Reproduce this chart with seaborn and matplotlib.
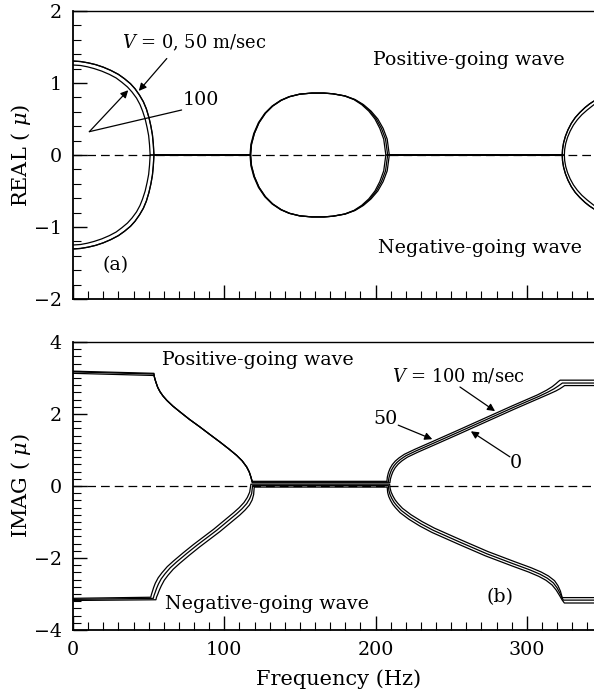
import pandas as pd
import seaborn as sns
import matplotlib.pyplot as plt
from matplotlib.ticker import MultipleLocator

# ---------------- (a) REAL(mu) : upper half of each loop (lower half is its mirror) ----------------
# V = 0 and 50 m/sec lie on the outer curves, V = 100 m/sec on the inner ones
arc_f_v0 = [0, 5, 10, 15, 20, 25, 30, 34, 38, 41, 44, 46.5, 48.5, 50.2, 51.5, 52.5, 53.1, 53.5]
arc_re_v0 = [1.305, 1.298, 1.28, 1.255, 1.22, 1.175, 1.12, 1.06, 0.99, 0.92, 0.83, 0.74, 0.64, 0.52, 0.40, 0.28, 0.15, 0.0]
arc_f_v100 = [0, 5, 9.5, 14, 19, 24, 28.5, 32.3, 36, 39, 42, 44.3, 46, 47.7, 49, 50, 50.6, 51]
arc_re_v100 = [1.25, 1.243, 1.225, 1.2, 1.165, 1.12, 1.07, 1.01, 0.945, 0.875, 0.79, 0.70, 0.61, 0.50, 0.38, 0.27, 0.14, 0.0]

oval_re = [0.0, 0.15, 0.30, 0.45, 0.58, 0.68, 0.76, 0.81, 0.845, 0.86, 0.86, 0.85, 0.82, 0.77, 0.70, 0.61, 0.50, 0.37, 0.22, 0.0]
oval_f_v0 = [117.4, 118.0, 119.9, 123.0, 127.2, 132.0, 137.7, 143.2, 150.0, 158.0, 166.0, 172.0, 180.0, 186.5, 192.0, 197.0, 201.5, 205.0, 207.7, 209.1]
oval_f_v50 = [117.4, 118.0, 119.9, 123.0, 127.2, 132.0, 137.7, 143.2, 150.0, 158.0, 166.0, 172.0, 179.8, 186.1, 191.4, 196.3, 200.5, 203.9, 206.6, 208.0]
oval_f_v100 = [117.0, 117.6, 119.5, 122.6, 126.8, 131.6, 137.3, 142.8, 149.6, 157.6, 165.6, 171.6, 179.5, 185.7, 190.8, 195.5, 199.6, 202.8, 205.4, 206.8]

edge_f_v0 = [323.4, 323.6, 324.3, 325.5, 327.2, 329.4, 332.0, 335.0, 338.5, 341.5, 344.4]
edge_re_v0 = [0.0, 0.08, 0.17, 0.26, 0.35, 0.44, 0.52, 0.59, 0.66, 0.71, 0.75]
edge_f_v100 = [324.8, 325.0, 325.7, 326.9, 328.6, 330.8, 333.4, 336.4, 339.9, 342.9, 344.4]
edge_re_v100 = [0.0, 0.075, 0.16, 0.245, 0.33, 0.415, 0.49, 0.56, 0.625, 0.675, 0.70]

# ---------------- (b) IMAG(mu) ----------------
# positive-going wave: the three speeds overlap on the falling part below 120 Hz
pos_flat_f = [0, 53.5]
pos_flat_im_v100 = [3.19, 3.13]
pos_flat_im_v50 = [3.17, 3.11]
pos_flat_im_v0 = [3.13, 3.07]
pos_drop_f = [53.8, 54.3, 55.0, 56.0, 57.5, 59.5, 62.0, 66.0, 70.7, 77.0, 83.9, 90.5, 97.2, 103.0, 108.2, 111.8, 114.8, 116.5, 117.6, 118.5]
pos_drop_im = [3.03, 2.95, 2.86, 2.74, 2.62, 2.50, 2.38, 2.22, 2.06, 1.85, 1.64, 1.43, 1.22, 1.03, 0.85, 0.70, 0.53, 0.39, 0.25, 0.11]
pos_mid_im_v100 = 0.13
pos_mid_im_v50 = 0.11
pos_mid_im_v0 = 0.09

pos_rise_f_v100 = [207.5, 207.8, 208.5, 209.5, 211.0, 213.0, 215.5, 219.0, 226.0, 239.0, 254.0, 272.0, 290.0, 307.0, 313.0, 316.8, 319.2, 320.8, 322.0, 344.4]
pos_rise_im_v100 = [0.13, 0.25, 0.37, 0.48, 0.59, 0.69, 0.78, 0.88, 1.02, 1.26, 1.54, 1.88, 2.22, 2.53, 2.66, 2.76, 2.84, 2.90, 2.94, 2.94]
pos_rise_f_v50 = [208.5, 208.8, 209.5, 210.5, 212.0, 214.0, 216.5, 220.0, 227.0, 240.0, 255.0, 273.0, 291.0, 308.0, 314.0, 318.0, 320.5, 322.2, 323.5, 344.4]
pos_rise_im_v50 = [0.11, 0.22, 0.33, 0.44, 0.55, 0.65, 0.74, 0.84, 0.98, 1.22, 1.50, 1.84, 2.18, 2.49, 2.61, 2.70, 2.77, 2.82, 2.86, 2.86]
pos_rise_f_v0 = [209.5, 209.8, 210.5, 211.5, 213.0, 215.0, 217.5, 221.0, 228.0, 241.0, 256.0, 274.0, 292.0, 309.0, 315.0, 319.2, 321.8, 323.6, 325.0, 344.4]
pos_rise_im_v0 = [0.09, 0.19, 0.29, 0.40, 0.51, 0.61, 0.70, 0.80, 0.94, 1.18, 1.46, 1.80, 2.14, 2.45, 2.56, 2.64, 2.70, 2.75, 2.79, 2.79]

# negative-going wave
neg_rise_f_v100 = [0, 51.4, 51.8, 52.4, 53.3, 54.4, 56.3, 58.8, 62.3, 66.5, 73.0, 79.8, 86.4, 93.0, 99.6, 106.2, 109.9, 113.0, 115.2, 116.8, 117.6]
neg_rise_im_v100 = [-3.12, -3.09, -3.02, -2.94, -2.82, -2.70, -2.55, -2.41, -2.24, -2.08, -1.85, -1.62, -1.41, -1.20, -0.97, -0.74, -0.60, -0.46, -0.32, -0.17, 0.05]
neg_rise_f_v50 = [0, 53.1, 53.5, 54.2, 55.2, 56.4, 58.3, 60.8, 64.3, 68.5, 75.0, 81.8, 88.4, 95.0, 101.6, 108.2, 111.8, 114.8, 116.8, 118.1, 118.7]
neg_rise_im_v50 = [-3.15, -3.12, -3.05, -2.97, -2.85, -2.73, -2.58, -2.44, -2.27, -2.11, -1.88, -1.65, -1.44, -1.23, -1.00, -0.77, -0.63, -0.49, -0.35, -0.21, 0.01]
neg_rise_f_v0 = [0, 54.8, 55.2, 56.0, 57.1, 58.4, 60.3, 62.8, 66.3, 70.5, 77.0, 83.8, 90.4, 97.0, 103.6, 110.2, 113.7, 116.6, 118.4, 119.4, 119.8]
neg_rise_im_v0 = [-3.18, -3.16, -3.09, -3.01, -2.89, -2.77, -2.62, -2.48, -2.31, -2.15, -1.92, -1.69, -1.48, -1.27, -1.04, -0.81, -0.67, -0.53, -0.39, -0.24, -0.03]

neg_fall_f_v100 = [209.3, 209.6, 210.3, 211.5, 213.0, 214.7, 217.8, 223.5, 230.8, 238.9, 256.6, 274.2, 291.8, 302.8, 309.5, 314.3, 318.3, 320.6, 322.2, 323.0, 323.4, 344.4]
neg_fall_im_v100 = [0.05, -0.06, -0.17, -0.28, -0.39, -0.48, -0.62, -0.80, -0.99, -1.17, -1.50, -1.82, -2.10, -2.27, -2.39, -2.50, -2.63, -2.77, -2.92, -3.04, -3.10, -3.10]
neg_fall_f_v50 = [208.5, 208.8, 209.5, 210.7, 212.2, 213.9, 217.0, 222.7, 230.0, 238.1, 255.8, 273.4, 291.0, 302.0, 308.7, 313.5, 317.5, 320.0, 321.9, 323.2, 324.1, 344.4]
neg_fall_im_v50 = [0.01, -0.12, -0.23, -0.34, -0.45, -0.54, -0.68, -0.86, -1.05, -1.23, -1.56, -1.88, -2.16, -2.33, -2.45, -2.56, -2.69, -2.83, -2.98, -3.10, -3.17, -3.17]
neg_fall_f_v0 = [207.7, 208.0, 208.7, 209.9, 211.4, 213.1, 216.2, 221.9, 229.2, 237.3, 255.0, 272.6, 290.2, 301.2, 307.9, 312.7, 316.7, 319.4, 321.6, 323.4, 324.8, 344.4]
neg_fall_im_v0 = [-0.03, -0.18, -0.29, -0.40, -0.51, -0.60, -0.74, -0.92, -1.11, -1.29, -1.62, -1.94, -2.22, -2.39, -2.51, -2.62, -2.75, -2.89, -3.04, -3.17, -3.25, -3.25]


def trace(name, f, y):
    return pd.DataFrame({'f': f, 'y': y, 'trace': name})


re_parts = []
for name, af, ar, of, ef, er in [
        ('v0', arc_f_v0, arc_re_v0, oval_f_v0, edge_f_v0, edge_re_v0),
        ('v50', arc_f_v0, arc_re_v0, oval_f_v50, edge_f_v0, edge_re_v0),
        ('v100', arc_f_v100, arc_re_v100, oval_f_v100, edge_f_v100, edge_re_v100)]:
    f = af + of + ef
    r = ar + oval_re + er
    re_parts.append(trace(name + '+', f, r))
    re_parts.append(trace(name + '-', f, [-v for v in r]))
df_re = pd.concat(re_parts, ignore_index=True)

im_parts = []
for name, flat_im, mid_im, rf, ri in [
        ('p100', pos_flat_im_v100, pos_mid_im_v100, pos_rise_f_v100, pos_rise_im_v100),
        ('p50', pos_flat_im_v50, pos_mid_im_v50, pos_rise_f_v50, pos_rise_im_v50),
        ('p0', pos_flat_im_v0, pos_mid_im_v0, pos_rise_f_v0, pos_rise_im_v0)]:
    im_parts.append(trace(name, pos_flat_f + pos_drop_f + rf,
                          flat_im + pos_drop_im[:-1] + [mid_im] + ri))
im_parts += [
    trace('n100', neg_rise_f_v100 + neg_fall_f_v100, neg_rise_im_v100 + neg_fall_im_v100),
    trace('n50', neg_rise_f_v50 + neg_fall_f_v50, neg_rise_im_v50 + neg_fall_im_v50),
    trace('n0', neg_rise_f_v0 + neg_fall_f_v0, neg_rise_im_v0 + neg_fall_im_v0),
]
df_im = pd.concat(im_parts, ignore_index=True)

sns.set_style('ticks')
plt.rcParams['font.family'] = ['DejaVu Serif']
plt.rcParams['mathtext.fontset'] = 'dejavuserif'
for key in ['text.color', 'axes.labelcolor', 'xtick.color', 'ytick.color', 'axes.edgecolor']:
    plt.rcParams[key] = 'black'
FS = 13.7
VFS = 12.9
LFS = 15

fig = plt.figure(figsize=(5.94, 6.96), dpi=100)
ax1 = fig.add_axes([73 / 594, 1 - 299 / 696, 521 / 594, 288 / 696])
ax2 = fig.add_axes([73 / 594, 1 - 630 / 696, 521 / 594, 288 / 696])

for ax, df in [(ax1, df_re), (ax2, df_im)]:
    ax.axhline(0, color='black', lw=0.9, ls=(0, (7, 4)), zorder=1)
    sns.lineplot(data=df, x='f', y='y', units='trace', estimator=None, sort=False,
                 color='black', lw=0.9, ax=ax, legend=False, zorder=2)
    ax.set_xlim(0, 344.4)
    ax.xaxis.set_major_locator(MultipleLocator(100))
    ax.xaxis.set_minor_locator(MultipleLocator(10))
    ax.yaxis.set_minor_locator(MultipleLocator(0.2))
    ax.tick_params(which='both', direction='in', top=False, right=False, labelsize=FS)
    ax.tick_params(which='major', length=10, width=1, pad=8)
    ax.tick_params(which='minor', length=5.5, width=0.8)
    ax.spines['right'].set_visible(False)
    ax.spines['left'].set_linewidth(1.3)
    ax.spines['bottom'].set_linewidth(1.3)
    ax.spines['top'].set_linewidth(1.0)

ax1.set_ylim(-2, 2)
ax1.yaxis.set_major_locator(MultipleLocator(1))
ax1.set_xticklabels([])
ax1.set_xlabel('')
ax1.set_ylabel('REAL ( $\\mu$)', fontsize=LFS)
ax1.yaxis.set_label_coords(-0.077, 0.5)

ax2.set_ylim(-4, 4)
ax2.yaxis.set_major_locator(MultipleLocator(2))
ax2.set_xlabel('Frequency (Hz)', fontsize=LFS)
ax2.xaxis.set_label_coords(0.51, -0.135)
ax2.set_ylabel('IMAG ( $\\mu$)', fontsize=LFS)
ax2.yaxis.set_label_coords(-0.077, 0.5)

arrow = dict(arrowstyle='-|>', color='black', lw=0.9, mutation_scale=11, shrinkA=0, shrinkB=0)

# panel (a) annotations
ax1.text(32.4, 1.556, '$V$ = 0, 50 m/sec', fontsize=VFS, va='center')
ax1.annotate('', xy=(43.5, 0.89), xytext=(62, 1.34), arrowprops=arrow)
ax1.text(72.7, 0.76, '100', fontsize=FS, va='center')
ax1.annotate('', xy=(10.8, 0.324), xytext=(71.8, 0.625),
             arrowprops=dict(arrowstyle='-', color='black', lw=0.9, shrinkA=0, shrinkB=0))
ax1.annotate('', xy=(36.5, 0.90), xytext=(10.8, 0.324), arrowprops=arrow)
ax1.text(198.3, 1.32, 'Positive-going wave', fontsize=FS, va='center')
ax1.text(201.6, -1.29, 'Negative-going wave', fontsize=FS, va='center')
ax1.text(19.2, -1.53, '(a)', fontsize=FS, va='center')

# panel (b) annotations
ax2.text(58.8, 3.49, 'Positive-going wave', fontsize=FS, va='center')
ax2.text(60.8, -3.29, 'Negative-going wave', fontsize=FS, va='center')
ax2.text(273.6, -3.09, '(b)', fontsize=FS, va='center')
ax2.text(210.8, 3.05, '$V$ = 100 m/sec', fontsize=VFS, va='center')
ax2.annotate('', xy=(279, 2.08), xytext=(255.8, 2.75), arrowprops=arrow)
ax2.text(198.3, 1.85, '50', fontsize=FS, va='center')
ax2.annotate('', xy=(237.5, 1.30), xytext=(215, 1.69), arrowprops=arrow)
ax2.text(288.8, 0.63, '0', fontsize=FS, va='center')
ax2.annotate('', xy=(263, 1.52), xytext=(288.8, 0.81), arrowprops=arrow)

fig.savefig('out.png', dpi=100)
